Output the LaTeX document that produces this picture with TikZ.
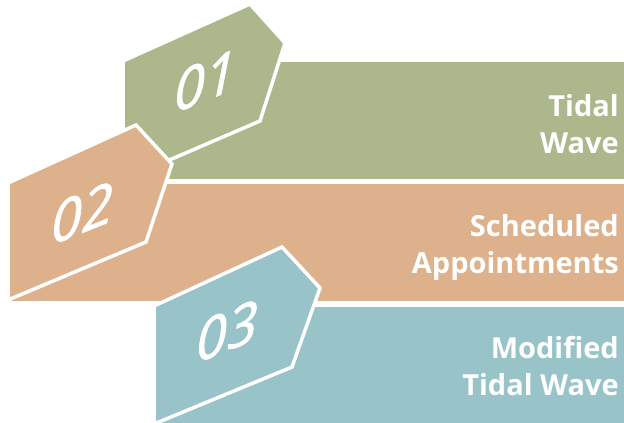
\documentclass[tikz,border=0pt]{standalone}
\usepackage{fontspec}
\setmainfont{Open Sans}
\newfontfamily\numfont{Open Sans}[ItalicFeatures={FakeBold=1.2}]
\definecolor{cgreen}{RGB}{173,183,140}
\definecolor{corange}{RGB}{222,177,141}
\definecolor{cteal}{RGB}{152,195,200}
\begin{document}
\begin{tikzpicture}[x=1pt,y=-1pt,
  tab/.style={fill=#1, draw=white, line width=3.5pt, line join=miter},
  num/.style={text=white, font=\numfont\fontsize{56}{56}\selectfont\itshape, yslant=0.4, inner sep=0pt},
  lbl/.style={text=white, font=\fontsize{29}{37}\selectfont\bfseries, align=right, inner sep=0pt, anchor=base east}]
\useasboundingbox (0,0) rectangle (624,423);
% green block
\fill[cgreen] (123,62) rectangle (624,178.5);
\draw[tab=cgreen] (123,61) -- (250,4) -- (285,43) -- (260,121) -- (123,180) -- cycle;
\node[num] (n1) at (205,81) {01};
\node[lbl] (l1) at (619,153) {Tidal\\Wave};
% orange block
\fill[corange] (8,184) rectangle (624,300.5);
\draw[tab=corange] (8,183) -- (136,125) -- (172,164) -- (146,242) -- (8,300) -- cycle;
\node[num] (n2) at (82,213) {02};
\node[lbl] (l2) at (619,273) {Scheduled\\Appointments};
% teal block
\fill[cteal] (154,306.5) rectangle (624,423);
\draw[tab=cteal] (154,306) -- (282,247) -- (320,288) -- (292,367) -- (154,424) -- cycle;
\node[num] (n3) at (227,331) {03};
\node[lbl] (l3) at (619,395) {Modified\\Tidal Wave};
\end{tikzpicture}
\end{document}
